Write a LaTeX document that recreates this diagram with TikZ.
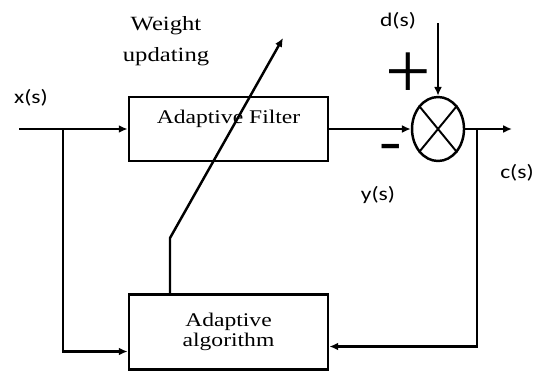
\documentclass[tikz,border=0pt]{standalone}
\usepackage{fontspec}
\setmainfont{Liberation Serif}
\setsansfont{Carlito}
\usetikzlibrary{arrows.meta, calc, positioning, shapes.geometric}

\begin{document}
\begin{tikzpicture}[
  wide/.style={xscale=1.22, transform shape},
  blk/.style={draw, wide, line width=1.4pt, minimum width=3.26cm, align=center,
              inner sep=0pt, font=\fontsize{11}{11.5}\selectfont},
  txt/.style={wide, align=center, font=\fontsize{11.5}{17.5}\selectfont},
  lbl/.style={wide, font=\sffamily\fontsize{11}{12}\selectfont},
  sgn/.style={inner sep=0pt},
  arr/.style={-{Latex[length=5pt, width=4.5pt]}, line width=1.4pt}
]
  \useasboundingbox (0,0) rectangle (10.78,7.44);

  \node[blk, minimum height=1.28cm, text height=0.3cm, text depth=0.54cm] (filt) at (4.57,4.86) {Adaptive Filter};
  \node[blk, minimum height=1.5cm] (algo) at (4.57,0.8) {Adaptive\\algorithm};
  \node[draw, ellipse, line width=1.4pt, minimum width=1.04cm, minimum height=1.28cm, inner sep=0pt] (sum) at (8.76,4.86) {};
  \draw[line width=1.1pt] (sum.north west) -- (sum.south east) (sum.north east) -- (sum.south west);

  \coordinate (xin)  at (0.38,4.86);
  \coordinate (xbr)  at (1.26,4.86);
  \coordinate (cbr)  at (9.54,4.86);
  \coordinate (cout) at (10.24,4.86);
  \coordinate (din)  at (8.76,6.98);
  \coordinate (kink) at (3.4,2.68);
  \coordinate (wtip) at (5.66,6.68);

  \node[lbl] (xlab) at (0.62,5.48) {x(s)};
  \node[lbl] (dlab) at (7.96,7.02) {d(s)};
  \node[lbl] (ylab) at (7.56,3.54) {y(s)};
  \node[lbl] (clab) at (10.34,3.98) {c(s)};
  \node[txt] (wlab) at (3.32,6.62) {Weight\\updating};
  \node[sgn, font=\fontsize{46}{46}\selectfont] (plus) at (8.16,5.92) {+};
  \node[sgn, font=\sffamily\bfseries\fontsize{28}{28}\selectfont] (minus) at (7.82,4.4) {–};

  \draw[arr] (xin) -- (filt);
  \draw[arr] (xbr) |- ([yshift=-0.39cm]algo.west);
  \draw[arr] (filt) -- (sum);
  \draw[arr] (din) -- (sum);
  \draw[arr] (sum) -- (cout);
  \draw[arr] (cbr) |- ([yshift=-0.29cm]algo.east);
  \draw[arr] (kink |- algo.north) -- (kink) -- (wtip);
\end{tikzpicture}
\end{document}
